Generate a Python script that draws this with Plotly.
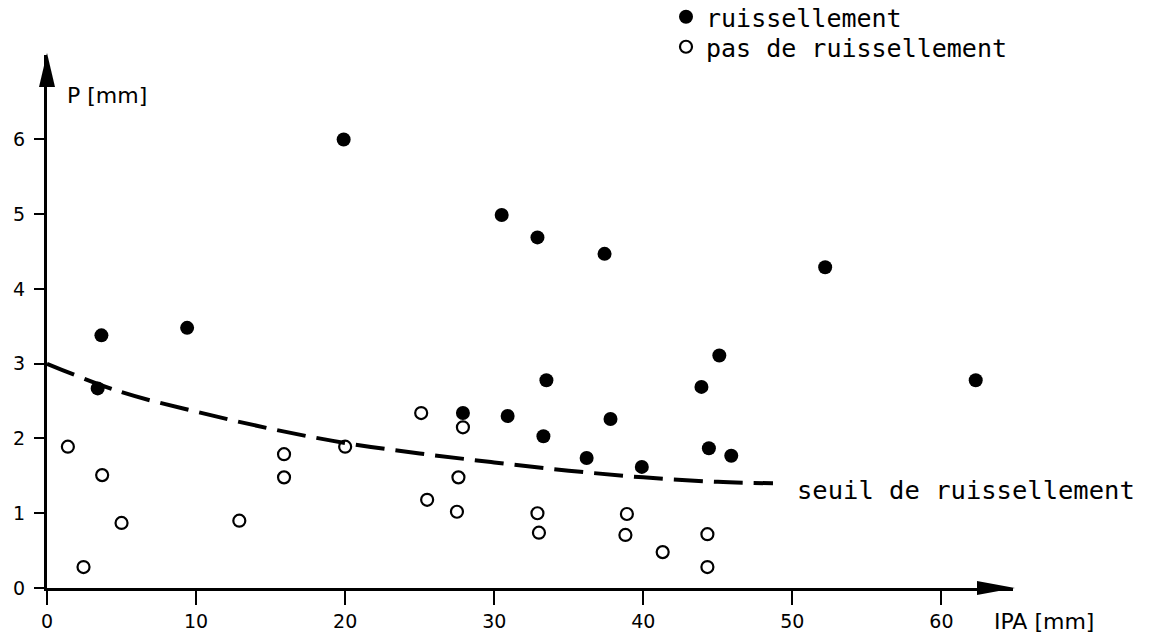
import plotly.graph_objects as go

# --- data ---
ruis_ipa = [3.65, 3.4, 9.4, 19.9, 30.5, 32.9, 37.4, 52.2, 62.3, 45.1,
            33.5, 43.9, 27.9, 30.9, 37.8, 33.3, 44.4, 45.9, 36.2, 39.9]
ruis_p = [3.38, 2.67, 3.48, 6.0, 4.99, 4.69, 4.47, 4.29, 2.78, 3.11,
          2.78, 2.69, 2.34, 2.30, 2.26, 2.03, 1.87, 1.77, 1.74, 1.62]

pas_ipa = [1.4, 3.7, 15.9, 15.9, 20.0, 2.45, 5.0, 12.9, 25.1, 27.9,
           27.6, 25.5, 27.5, 32.9, 33.0, 38.9, 38.8, 41.3, 44.3, 44.3]
pas_p = [1.89, 1.51, 1.79, 1.48, 1.89, 0.28, 0.87, 0.90, 2.34, 2.15,
         1.48, 1.18, 1.02, 1.00, 0.74, 0.99, 0.71, 0.48, 0.72, 0.28]

seuil_ipa = [0, 5, 10, 15, 20, 25, 30, 35, 40, 45, 48.7]
seuil_p = [3.0, 2.62, 2.36, 2.13, 1.94, 1.80, 1.68, 1.57, 1.48, 1.42, 1.40]

x_ticks = [0, 10, 20, 30, 40, 50, 60]
y_ticks = [0, 1, 2, 3, 4, 5, 6]
X_END = 64.8
Y_END = 7.13

MONO = "DejaVu Sans Mono"
SANS = "DejaVu Sans"

fig = go.Figure()

fig.add_trace(go.Scatter(
    x=seuil_ipa, y=seuil_p, mode="lines", showlegend=False,
    line=dict(color="black", width=4, dash="29px,11px", shape="spline"),
    hoverinfo="skip"))

fig.add_trace(go.Scatter(
    x=ruis_ipa, y=ruis_p, mode="markers", name="ruissellement",
    legend="legend",
    marker=dict(symbol="circle", size=14, color="black"),
    cliponaxis=False))

fig.add_trace(go.Scatter(
    x=pas_ipa, y=pas_p, mode="markers", name="pas de ruissellement",
    legend="legend2",
    marker=dict(symbol="circle-open", size=12, color="black",
                line=dict(width=2.2, color="black")),
    cliponaxis=False))

legend_common = dict(xref="container", yref="container",
                     xanchor="left", yanchor="middle",
                     font=dict(family=MONO, size=25, color="black"),
                     bgcolor="rgba(0,0,0,0)", borderwidth=0, itemwidth=30)

fig.update_layout(
    width=1155, height=635,
    margin=dict(l=47, r=142, t=55, b=47, autoexpand=False),
    paper_bgcolor="white", plot_bgcolor="white",
    showlegend=True,
    legend=dict(x=666 / 1155, y=1 - 17 / 635, **legend_common),
    legend2=dict(x=666 / 1155, y=1 - 47 / 635, **legend_common),
    xaxis=dict(range=[0, X_END], tickvals=x_ticks, showgrid=False,
               zeroline=False, showline=True, linecolor="black", linewidth=3,
               ticks="outside", ticklen=14, tickwidth=2, tickcolor="black",
               automargin=False,
               tickfont=dict(family=SANS, size=19, color="black")),
    yaxis=dict(range=[0, Y_END], tickvals=y_ticks, showgrid=False,
               zeroline=False, showline=True, linecolor="black", linewidth=3,
               ticks="outside", ticklen=10, tickwidth=2, tickcolor="black",
               ticklabelstandoff=5, automargin=False,
               tickfont=dict(family=SANS, size=19, color="black")),
    shapes=[
        dict(type="path", xref="paper", yref="paper", xsizemode="pixel",
             ysizemode="pixel", xanchor=1, yanchor=0,
             path="M 2,0 L -36,-7 L -36,7 Z", fillcolor="black",
             line=dict(width=0)),
        dict(type="path", xref="paper", yref="paper", xsizemode="pixel",
             ysizemode="pixel", xanchor=0, yanchor=1,
             path="M 0,2 L -8,-32 L 8,-32 Z", fillcolor="black",
             line=dict(width=0)),
    ],
    annotations=[
        dict(x=50.2, y=1.31, xref="x", yref="y", text="seuil de ruissellement",
             showarrow=False, xanchor="left", yanchor="middle",
             font=dict(family=MONO, size=25.5, color="black")),
        dict(x=(65 - 47) / 966, y=1 + (55 - 96) / 533, xref="paper",
             yref="paper", text="P [mm]",
             showarrow=False, xanchor="left", yanchor="middle",
             font=dict(family=SANS, size=22, color="black")),
        dict(x=(992 - 47) / 966, y=(588 - 621) / 533, xref="paper",
             yref="paper", text="IPA [mm]",
             showarrow=False, xanchor="left", yanchor="middle",
             font=dict(family=SANS, size=22, color="black")),
    ],
)

fig.write_html("out.html",
               config={"displayModeBar": False},
               post_script="document.body.style.margin='0px';"
                           "document.body.style.overflow='hidden';")
